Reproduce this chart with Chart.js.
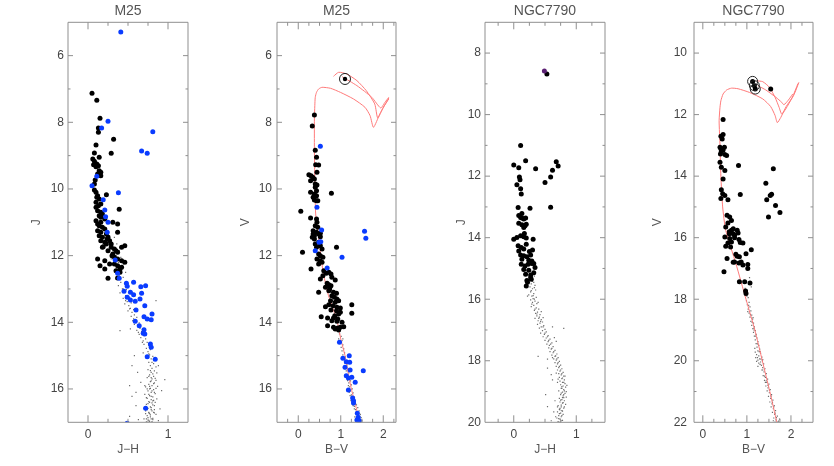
<!DOCTYPE html>
<html><head><meta charset="utf-8">
<script src="https://cdn.jsdelivr.net/npm/chart.js@4.4.1/dist/chart.umd.min.js"></script>
<style>
html,body{margin:0;padding:0;background:#fff;width:834px;height:466px;overflow:hidden;}
canvas{position:absolute;top:0;}
</style></head><body>
<canvas id="c1" width="192" height="466" style="left:8px"></canvas>
<canvas id="c2" width="191" height="466" style="left:217px"></canvas>
<canvas id="c3" width="192" height="466" style="left:425px"></canvas>
<canvas id="c4" width="191" height="466" style="left:634px"></canvas>
<script>
// ---------- tick labels / titles ----------
const panelTitles = ['M25', 'M25', 'NGC7790', 'NGC7790'];
const xTitles = ['J\u2212H', 'B\u2212V', 'J\u2212H', 'B\u2212V'];
const yTitles = ['J', 'V', 'J', 'V'];
const xTicks1 = [0, 1], xTicks2 = [0, 1, 2], xTicks3 = [0, 1], xTicks4 = [0, 1, 2];
const yTicks1 = [6, 8, 10, 12, 14, 16], yTicks2 = [6, 8, 10, 12, 14, 16];
const yTicks3 = [8, 10, 12, 14, 16, 18, 20], yTicks4 = [10, 12, 14, 16, 18, 20, 22];
const xMinor1 = [0, 0.25, 0.5, 0.75, 1];
const xMinor2 = [-0.25, 0, 0.25, 0.5, 0.75, 1, 1.25, 1.5, 1.75, 2, 2.25];
const xMinor3 = [-0.25, 0, 0.25, 0.5, 0.75, 1, 1.25];
const xMinor4 = [0, 0.25, 0.5, 0.75, 1, 1.25, 1.5, 1.75, 2, 2.25];
const yMinor1 = [6, 7, 8, 9, 10, 11, 12, 13, 14, 15, 16];
const yMinor2 = [6, 7, 8, 9, 10, 11, 12, 13, 14, 15, 16];
const yMinor3 = [8, 9, 10, 11, 12, 13, 14, 15, 16, 17, 18, 19];
const yMinor4 = [10, 11, 12, 13, 14, 15, 16, 17, 18, 19, 20, 21];

// ---------- Panel 1: M25, J vs J-H ----------
const m25JBlack = [[0.05,7.13],[0.11,7.34],[0.15,7.88],[0.13,8.17],[0.13,8.30],[0.32,8.51],[0.10,8.68],[0.29,8.93],[0.08,8.92],
[0.14,9.05],[0.06,9.10],[0.08,9.17],[0.11,9.25],[0.07,9.27],[0.13,9.30],[0.10,9.33],[0.14,9.45],[0.16,9.50],[0.12,9.55],[0.16,9.60],
[0.09,9.73],[0.08,9.85],[0.08,10.03],[0.10,10.10],[0.12,10.20],[0.23,10.17],[0.11,10.25],[0.14,10.30],[0.10,10.40],[0.13,10.50],
[0.16,10.45],[0.10,10.55],[0.39,10.61],[0.12,10.65],[0.16,10.70],[0.14,10.80],[0.18,10.75],[0.16,10.85],[0.21,10.90],[0.10,10.95],
[0.12,11.05],[0.14,11.10],[0.31,11.00],[0.37,11.05],[0.16,11.00],[0.18,11.15],[0.21,11.20],[0.12,11.25],[0.16,11.30],[0.14,11.40],
[0.18,11.45],[0.23,11.35],[0.25,11.45],[0.37,11.30],[0.16,11.55],[0.21,11.60],[0.27,11.55],[0.29,11.65],[0.24,11.50],[0.46,11.70],
[0.29,11.75],[0.33,11.80],[0.35,11.85],[0.31,11.95],[0.37,11.90],[0.42,11.75],[0.18,11.75],[0.25,11.85],[0.33,12.05],[0.37,12.10],
[0.42,12.15],[0.12,12.10],[0.21,12.15],[0.33,12.25],[0.37,12.30],[0.42,12.35],[0.35,12.45],[0.40,12.50],[0.21,12.40],[0.27,12.25],
[0.25,12.68],[0.37,12.67],[0.46,12.20],[0.15,12.30],[0.23,11.65],[0.19,11.73],[0.30,12.00],[0.40,12.40]];
const m25JBlue = [[0.41,5.29],[0.25,7.97],[0.17,8.17],[0.81,8.28],[0.67,8.86],[0.74,8.93],[0.11,9.62],[0.05,9.90],[0.38,10.11],
[0.19,10.32],[0.21,10.63],[0.22,10.83],[0.25,11.00],[0.24,11.30],[0.34,12.13],[0.37,12.53],[0.39,12.68],[0.57,12.80],[0.48,12.83],
[0.49,12.92],[0.66,12.93],[0.72,12.90],[0.67,13.13],[0.53,13.10],[0.57,13.17],[0.45,13.07],[0.49,13.25],[0.53,13.33],[0.59,13.37],
[0.65,13.30],[0.71,13.50],[0.60,13.63],[0.80,13.75],[0.70,13.83],[0.74,13.90],[0.79,13.92],[0.59,13.97],[0.64,14.10],[0.70,14.22],
[0.69,14.33],[0.71,14.35],[0.78,14.65],[0.79,14.75],[0.74,15.03],[0.84,15.11],[0.72,16.58],[0.49,17.03]];
const m25JGray = [[0.27,11.4],[0.33,11.45],[0.30,11.6],[0.36,11.65],[0.32,11.8],[0.39,11.85],[0.35,12.0],[0.41,12.05],[0.29,12.1],
[0.38,12.2],[0.44,12.25],[0.36,12.4],[0.42,12.45],[0.47,12.5],[0.39,12.6],[0.44,12.65],[0.35,12.7],[0.41,12.8],[0.46,12.85],[0.38,12.9],
[0.43,13.0],[0.48,13.02],[0.45,13.1],[0.40,13.12],[0.47,13.2],[0.52,13.25],[0.44,13.28],[0.49,13.38],[0.54,13.42],[0.46,13.45],[0.51,13.5],
[0.53,13.58],[0.57,13.62],[0.50,13.66],[0.55,13.7],[0.58,13.78],[0.54,13.82],[0.61,13.85],[0.57,13.9],[0.60,13.98],[0.64,14.02],
[0.58,14.06],[0.62,14.1],[0.53,14.2],[0.65,14.18],[0.61,14.24],[0.67,14.28],[0.64,14.36],[0.70,14.4],[0.66,14.46],[0.72,14.5],
[0.69,14.56],[0.74,14.6],[0.70,14.66],[0.76,14.7],[0.73,14.78],[0.78,14.82],[0.75,14.88],[0.69,14.92],[0.77,14.98],[0.81,15.02],
[0.74,15.06],[0.79,15.1],[0.84,15.14],[0.76,15.2],[0.82,15.24],[0.78,15.3],[0.85,15.34],[0.88,15.3],[0.80,15.38],[0.75,15.42],
[0.83,15.46],[0.79,15.5],[0.86,15.52],[0.62,15.5],[0.77,15.58],[0.82,15.62],[0.74,15.66],[0.80,15.7],[0.85,15.74],[0.78,15.78],
[0.83,15.82],[0.76,15.86],[0.80,15.9],[0.72,15.94],[0.87,15.92],[0.52,15.9],[0.78,15.98],[0.82,16.02],[0.75,16.06],[0.79,16.1],
[0.84,16.14],[0.71,16.16],[0.92,16.05],[0.77,16.2],[0.81,16.24],[0.74,16.28],[0.79,16.32],[0.86,16.3],[0.55,16.22],[0.76,16.38],
[0.80,16.42],[0.73,16.46],[0.83,16.5],[0.78,16.54],[0.60,16.5],[0.75,16.58],[0.79,16.62],[0.72,16.66],[0.82,16.7],[0.77,16.74],
[0.85,16.76],[0.74,16.8],[0.78,16.84],[0.81,16.88],[0.70,16.9],[0.76,16.94],[0.80,16.98],[0.52,16.82],[0.63,16.92],[0.88,16.95],
[0.40,14.25],[0.85,13.35],[0.55,15.3],[0.60,16.1],[0.77,16.0],[0.81,16.36],[0.76,16.72],[0.79,15.66],[0.73,16.9],[0.83,16.62],
[0.78,15.45],[0.81,15.55],[0.76,15.62],[0.84,15.68],[0.79,15.76],[0.82,15.84],[0.77,15.92],[0.74,16.0],[0.80,16.06],[0.83,16.1],
[0.76,16.16],[0.79,16.22],[0.73,16.26],[0.82,16.34],[0.77,16.4],[0.75,16.44],[0.81,16.48],[0.79,16.56],[0.74,16.62],[0.80,16.66],
[0.76,16.7],[0.83,16.72],[0.78,16.78],[0.75,16.86],[0.79,16.9],[0.77,16.97],[0.73,16.99],[0.81,16.92],[0.72,16.74],[0.84,16.4],
[0.71,15.9],[0.85,15.98],[0.80,15.2],[0.76,14.95],[0.68,14.6],[0.63,14.3],[0.56,13.95],[0.52,13.6],[0.47,13.35],[0.44,13.0],
[0.40,12.7],[0.37,12.3],[0.96,15.72],[0.58,15.0],[0.66,15.8],[0.90,16.6]];

// ---------- Panel 2: M25, V vs B-V ----------
const m25VBlack = [[0.38,7.78],[0.33,8.11],[0.40,8.84],[0.43,9.05],[0.41,9.27],[0.48,9.28],[0.44,9.50],[0.25,9.57],[0.30,9.60],
[0.34,9.65],[0.38,9.70],[0.29,9.75],[0.40,9.85],[0.44,9.88],[0.40,9.95],[0.43,10.05],[0.29,10.10],[0.38,10.15],[0.43,10.20],
[0.35,10.25],[0.38,10.33],[0.43,10.35],[0.46,10.35],[0.78,10.13],[0.06,10.67],[0.29,10.87],[0.43,10.90],[0.44,11.00],[0.40,11.10],
[0.46,11.15],[0.35,11.25],[0.43,11.30],[0.48,11.35],[0.38,11.40],[0.52,11.43],[0.35,11.35],[0.52,11.33],[0.33,11.45],[0.38,11.50],
[0.48,11.60],[0.40,11.65],[0.52,11.70],[0.43,11.75],[0.56,11.80],[0.90,11.75],[0.10,11.90],[0.48,11.95],[0.52,12.00],[0.58,12.05],
[0.44,12.10],[0.51,12.15],[0.56,12.20],[0.48,12.25],[0.30,12.40],[0.60,12.45],[0.66,12.53],[0.72,12.50],[0.77,12.55],[0.58,12.60],
[0.87,12.73],[0.79,12.65],[0.52,12.70],[0.68,12.83],[0.72,12.87],[0.77,12.90],[0.64,12.95],[0.74,13.00],[0.72,13.05],[0.83,13.10],
[0.90,13.13],[0.48,13.10],[0.79,13.20],[0.85,13.25],[0.91,13.30],[0.76,13.35],[0.87,13.40],[0.95,13.35],[0.72,13.47],[1.26,13.47],
[0.64,13.53],[0.82,13.50],[0.91,13.55],[0.99,13.57],[0.77,13.63],[0.90,13.65],[0.99,13.70],[0.95,13.75],[0.86,13.80],[1.26,13.73],
[0.54,13.83],[0.69,13.87],[0.83,13.87],[0.93,13.90],[0.79,13.95],[0.91,13.97],[1.03,14.00],[0.69,14.10],[0.83,14.15],[0.93,14.17],
[0.99,14.15],[1.07,14.13],[0.87,14.20],[0.95,14.23]];
const m25VBlue = [[0.52,8.72],[0.44,10.55],[0.55,11.23],[1.56,11.27],[1.59,11.48],[0.49,11.60],[0.53,11.58],[0.40,11.85],[1.03,12.05],
[0.68,12.37],[0.97,14.60],[1.05,15.08],[1.20,15.00],[1.13,15.18],[1.21,15.20],[1.10,15.35],[1.22,15.43],[1.53,15.45],[1.13,15.60],
[1.18,15.67],[1.26,15.65],[1.34,15.80],[1.18,16.03],[1.28,16.27],[1.30,16.35],[1.30,16.42],[1.39,16.73],[1.41,16.85],[1.38,16.93],
[1.44,16.95],[1.42,17.00]];
const m25VGray = [[0.97,14.35],[1.01,14.42],[0.95,14.5],[1.03,14.55],[0.99,14.62],[1.05,14.68],[1.01,14.75],[1.07,14.8],[1.03,14.86],
[1.09,14.92],[1.05,14.98],[1.11,15.04],[1.07,15.1],[1.13,15.15],[1.09,15.22],[1.15,15.28],[1.11,15.34],[1.17,15.4],[1.13,15.46],
[1.19,15.52],[1.15,15.58],[1.21,15.64],[1.17,15.7],[1.23,15.76],[1.19,15.82],[1.25,15.88],[1.21,15.94],[1.27,16.0],[1.23,16.06],
[1.29,16.12],[1.25,16.18],[1.31,16.24],[1.27,16.3],[1.34,16.36],[1.30,16.42],[1.37,16.48],[1.32,16.52],[1.40,16.56],[1.35,16.62],
[1.43,16.66],[1.38,16.72],[1.46,16.76],[1.41,16.8],[1.33,16.84],[1.48,16.86],[1.44,16.9],[1.36,16.94],[1.50,16.96],[1.40,16.99],
[1.47,16.99],[1.14,15.2],[1.18,15.9],[1.05,14.5],[1.28,16.4],[1.22,16.2],[1.36,16.7],[1.10,15.4],[1.26,16.22],[1.32,16.6],
[1.39,16.88],[1.45,16.82],[1.29,16.5],[1.35,16.45],[1.24,16.35],[1.42,16.98],[1.20,16.1],[1.16,15.75]];
const m25VRing = [[1.10,6.70]];
const m25VRingDot = [[1.10,6.70]];
const m25IsoMain = [[1.45,17.0],[1.35,16.5],[1.25,16.0],[1.17,15.5],[1.10,15.0],[1.00,14.5],[0.94,14.1],[0.86,13.75],[0.70,13.15],
[0.58,12.45],[0.49,11.55],[0.41,10.75],[0.39,9.75],[0.38,8.8],[0.38,7.9],[0.39,7.5],[0.40,7.25],[0.43,7.1],[0.48,7.0],[0.56,6.95],
[0.76,6.98],[0.99,7.1],[1.30,7.3],[1.57,7.55],[1.69,7.8],[1.77,8.15],[1.92,7.75],[2.13,7.27]];
const m25IsoLoop1 = [[0.83,6.62],[0.95,6.5],[1.14,6.55],[1.38,6.75],[1.60,7.05],[1.80,7.45],[1.87,7.87],[2.0,7.55],[2.13,7.3]];
const m25IsoLoop2 = [[1.03,6.63],[1.38,6.9],[1.73,7.25],[1.94,7.57],[2.04,7.4],[2.13,7.25]];

// ---------- Panel 3: NGC7790, J vs J-H ----------
const n7790JPurple = [[0.49,8.58]];
const n7790JBlack = [[0.53,8.68],[0.11,11.0],[0.19,11.5],[0.0,11.64],[0.08,11.73],[0.35,11.76],[0.68,11.53],[0.71,11.67],[0.62,11.81],
[0.59,12.03],[0.50,12.21],[0.09,12.03],[0.10,12.12],[0.05,12.28],[0.11,12.41],[0.12,12.58],[0.59,13.01],[0.07,13.02],[0.26,13.04],
[0.13,13.21],[0.11,13.34],[0.16,13.39],[0.08,13.53],[0.13,13.58],[0.20,13.56],[0.16,13.67],[0.13,13.36],[0.19,13.36],[0.08,13.28],
[0.18,13.61],[0.0,14.05],[0.05,13.99],[0.11,13.94],[0.16,13.97],[0.20,14.01],[0.31,14.05],[0.17,13.86],[0.07,14.26],[0.12,14.32],
[0.16,14.37],[0.08,14.43],[0.20,14.21],[0.25,14.45],[0.30,14.40],[0.11,14.56],[0.16,14.59],[0.21,14.62],[0.27,14.56],[0.13,14.70],
[0.24,14.73],[0.29,14.76],[0.12,14.86],[0.18,14.92],[0.23,14.86],[0.29,14.84],[0.34,14.97],[0.16,15.03],[0.24,15.06],[0.32,14.84],
[0.19,15.19],[0.27,15.21],[0.32,15.14],[0.21,15.39],[0.28,15.35],[0.20,15.57],[0.22,15.45],[0.27,15.30]];
const n7790JGray = [[0.25,15.05],[0.31,15.1],[0.27,15.2],[0.33,15.25],[0.29,15.32],[0.24,15.38],[0.32,15.45],[0.28,15.5],
[0.34,15.55],[0.26,15.6],[0.30,15.66],[0.35,15.7],[0.27,15.76],[0.32,15.82],[0.24,15.86],[0.29,15.9],[0.36,15.94],[0.31,15.98],
[0.27,16.02],[0.34,16.06],[0.30,16.1],[0.37,16.14],[0.32,16.2],[0.28,16.24],[0.36,16.28],[0.40,16.32],[0.33,16.36],[0.38,16.42],
[0.35,16.46],[0.42,16.5],[0.37,16.54],[0.41,16.58],[0.34,16.62],[0.44,16.66],[0.39,16.7],[0.46,16.74],[0.42,16.78],[0.38,16.82],
[0.48,16.86],[0.44,16.9],[0.41,16.94],[0.50,16.98],[0.80,16.95],[0.62,16.9],[0.46,17.02],[0.52,17.06],[0.43,17.1],[0.49,17.14],
[0.55,17.18],[0.47,17.22],[0.52,17.26],[0.58,17.3],[0.50,17.34],[0.55,17.38],[0.61,17.42],[0.53,17.46],[0.57,17.5],[0.68,17.37],
[0.65,17.25],[0.63,17.54],[0.56,17.58],[0.60,17.62],[0.66,17.66],[0.58,17.7],[0.63,17.74],[0.69,17.78],[0.61,17.82],[0.66,17.86],
[0.71,17.9],[0.64,17.94],[0.68,17.98],[0.39,17.86],[0.54,17.95],[0.73,18.02],[0.66,18.06],[0.70,18.1],[0.75,18.14],[0.68,18.18],
[0.72,18.22],[0.77,18.26],[0.70,18.3],[0.74,18.34],[0.79,18.38],[0.72,18.42],[0.76,18.46],[0.80,18.5],[0.54,18.24],[0.60,18.45],
[0.73,18.54],[0.77,18.58],[0.81,18.62],[0.74,18.66],[0.78,18.7],[0.82,18.74],[0.75,18.78],[0.79,18.82],[0.83,18.86],[0.76,18.9],
[0.80,18.94],[0.72,18.98],[0.62,18.62],[0.85,18.8],[0.78,19.02],[0.82,19.06],[0.75,19.1],[0.79,19.14],[0.84,19.18],[0.73,19.22],
[0.77,19.26],[0.81,19.3],[0.74,19.34],[0.78,19.38],[0.83,19.42],[0.71,19.46],[0.76,19.5],[0.51,19.1],[0.54,19.49],[0.66,19.3],
[0.80,19.54],[0.73,19.58],[0.77,19.62],[0.70,19.66],[0.75,19.7],[0.79,19.74],[0.72,19.78],[0.76,19.82],[0.69,19.86],[0.74,19.9],
[0.78,19.94],[0.71,19.98],[0.75,20.0],[0.64,19.66],[0.67,19.82],[0.60,19.95],[0.77,18.9],[0.80,19.2],[0.74,19.6],[0.71,18.6],
[0.30,15.15],[0.26,15.28],[0.30,15.42],[0.33,15.62],[0.28,15.72],[0.31,15.88],[0.33,16.0],[0.29,16.16],[0.34,16.32],[0.37,16.48],
[0.40,16.62],[0.43,16.72],[0.47,16.9],[0.50,17.1],[0.54,17.22],[0.56,17.34],[0.59,17.46],[0.61,17.6],[0.64,17.7],[0.67,17.84],
[0.69,17.94],[0.71,18.06],[0.73,18.18],[0.75,18.3],[0.77,18.42],[0.78,18.56],[0.80,18.7],[0.77,18.84],[0.81,18.98],[0.76,19.05],
[0.80,19.1],[0.78,19.2],[0.75,19.28],[0.79,19.36],[0.76,19.44],[0.81,19.5],[0.74,19.55],[0.78,19.64],[0.73,19.72],[0.77,19.78],
[0.72,19.88],[0.76,19.95],[0.73,20.0],[0.70,19.5],[0.84,19.0],[0.82,18.5],[0.70,18.7],[0.68,18.4],[0.62,17.9],[0.47,16.6],
[0.44,16.4],[0.39,16.1],[0.22,15.9]];

// ---------- Panel 4: NGC7790, V vs B-V ----------
const n7790VBlack = [[1.13,10.92],[1.17,11.06],[1.19,11.17],[1.54,11.17],[0.46,12.16],[0.46,12.65],[0.41,12.70],[0.44,12.79],
[0.39,13.06],[0.41,13.11],[0.46,13.15],[0.40,13.28],[0.50,13.30],[0.54,13.33],[0.39,13.55],[0.42,13.71],[0.50,13.82],[0.81,13.65],
[1.60,13.76],[0.46,14.09],[1.43,14.23],[0.42,14.44],[0.45,14.57],[0.50,14.63],[0.57,14.77],[0.41,14.73],[0.85,14.60],[1.45,14.77],
[1.53,14.63],[1.56,14.59],[1.65,14.95],[1.49,15.33],[1.75,15.18],[0.55,15.27],[0.61,15.33],[0.65,15.44],[0.57,15.52],[0.52,15.65],
[0.65,15.76],[0.60,15.87],[0.69,15.71],[0.78,15.76],[0.72,15.92],[0.60,15.81],[0.69,15.87],[0.80,15.85],[0.50,15.98],[0.61,16.03],
[0.72,16.00],[0.82,16.06],[0.57,16.17],[0.65,16.14],[0.85,16.16],[0.91,16.17],[0.52,16.28],[0.63,16.30],[0.98,16.52],[1.10,16.39],
[0.55,16.68],[0.75,16.54],[0.78,16.60],[0.83,16.62],[0.72,16.79],[0.82,16.82],[0.69,16.80],[0.87,16.79],[0.91,16.89],[1.02,16.87],
[1.02,17.00],[0.48,17.11],[0.83,17.43],[0.95,17.43],[1.07,17.47],[0.97,17.73],[0.98,17.81],[0.49,13.06],[0.42,13.20]];
const n7790VRings = [[1.13,10.92],[1.17,11.06],[1.19,11.17]];
const n7790VGray = [[0.96,17.65],[1.01,17.75],[0.98,17.85],[1.03,17.95],[0.99,18.05],[1.05,18.1],[1.01,18.18],[1.07,18.25],
[1.03,18.32],[1.09,18.38],[1.05,18.45],[1.11,18.52],[1.07,18.58],[1.13,18.65],[1.09,18.72],[1.15,18.78],[1.11,18.85],[1.17,18.9],
[1.13,18.96],[1.19,19.02],[1.15,19.08],[1.21,19.14],[1.17,19.2],[1.23,19.26],[1.19,19.32],[1.25,19.38],[1.21,19.44],[1.27,19.5],
[1.23,19.56],[1.29,19.62],[1.25,19.68],[1.19,19.72],[1.31,19.76],[1.22,19.8],[1.27,19.84],[1.34,19.88],[1.20,19.9],[1.29,19.94],
[1.25,19.98],[1.36,19.96],[1.22,20.02],[1.31,20.04],[1.27,20.08],[1.38,20.1],[1.33,20.15],[1.25,20.18],[1.36,20.22],[1.41,20.26],
[1.34,20.3],[1.39,20.36],[1.44,20.42],[1.37,20.48],[1.42,20.54],[1.47,20.6],[1.40,20.64],[1.45,20.7],[1.50,20.76],[1.43,20.82],
[1.48,20.88],[1.53,20.94],[1.46,20.98],[1.51,21.04],[1.56,21.1],[1.49,21.16],[1.54,21.22],[1.59,21.28],[1.52,21.34],[1.57,21.4],
[1.62,21.46],[1.55,21.5],[1.60,21.56],[1.65,21.62],[1.58,21.68],[1.63,21.74],[1.69,21.8],[1.61,21.86],[1.66,21.92],[1.72,21.96],
[1.64,21.99],[1.06,17.3],[1.10,17.6],[1.16,19.0],[1.30,19.7],[1.42,20.7],[1.35,20.0],[1.00,17.9],[1.04,18.2],[1.08,18.5],
[1.12,18.75],[1.16,18.95],[1.20,19.2],[1.24,19.45],[1.28,19.7],[1.32,19.95],[1.30,20.12],[1.36,20.3],[1.40,20.5],[1.44,20.65],
[1.48,20.8],[1.51,20.95],[1.55,21.15],[1.58,21.35],[1.61,21.5],[1.64,21.7],[1.67,21.85],[1.70,21.99],[1.60,21.95],[1.74,21.9],
[1.24,19.9],[1.18,19.6],[1.14,18.6],[1.02,18.4]];
const n7790IsoMain = [[1.68,22.0],[1.52,21.0],[1.35,20.0],[1.18,19.0],[0.98,18.0],[0.75,16.84],[0.52,15.76],[0.45,15.0],[0.41,14.0],
[0.39,13.0],[0.37,12.2],[0.39,11.76],[0.41,11.55],[0.46,11.33],[0.54,11.2],[0.65,11.14],[0.80,11.16],[1.06,11.28],[1.36,11.49],
[1.54,11.74],[1.64,12.03],[1.69,12.26],[1.77,12.09],[1.89,11.74],[2.06,11.38],[2.18,10.95]];
const n7790IsoLoop1 = [[1.22,10.9],[1.36,10.93],[1.51,11.11],[1.64,11.44],[1.73,11.76],[1.79,11.98],[1.88,11.82],[2.03,11.44],[2.16,10.99]];
const n7790IsoLoop2 = [[1.25,11.06],[1.43,11.2],[1.66,11.44],[1.79,11.6],[1.84,11.68],[1.94,11.53],[2.04,11.33]];

// ---------- drawing ----------
const FONT = '"Liberation Sans", Arial, Helvetica, sans-serif';
const pts = a => a.map(([x, y]) => ({x, y}));
const dotSet = (a, c, r) => ({data: pts(a), backgroundColor: c, borderWidth: 0, pointRadius: r, pointHoverRadius: r});
const graySet = a => ({data: pts(a), backgroundColor: '#6e6e6e', borderWidth: 0, pointStyle: 'rect', pointRadius: 0.85, pointHoverRadius: 0.85});
const lineSet = a => ({data: pts(a), showLine: true, borderColor: '#ff7a7a', borderWidth: 1, pointRadius: 0, fill: false, tension: 0.2});
const ringSet = (a, r) => ({data: pts(a), backgroundColor: 'rgba(0,0,0,0)', borderColor: '#222', borderWidth: 1, pointRadius: r, pointHoverRadius: r});

function framePlugin(xMinor, xMajor, yMinor, yMajor) {
  return {
    id: 'frame',
    afterDatasetsDraw(chart) {
      const {ctx, chartArea: a, scales: {x, y}} = chart;
      ctx.save();
      ctx.strokeStyle = '#8f8f8f';
      ctx.lineWidth = 1;
      ctx.beginPath();
      ctx.rect(a.left, a.top, a.right - a.left, a.bottom - a.top);
      for (const v of xMinor) {
        const p = x.getPixelForValue(v);
        const len = xMajor.includes(v) ? 7 : 3.5;
        ctx.moveTo(p, a.bottom); ctx.lineTo(p, a.bottom - len);
        ctx.moveTo(p, a.top); ctx.lineTo(p, a.top + len);
      }
      for (const v of yMinor) {
        const p = y.getPixelForValue(v);
        const len = yMajor.includes(v) ? 5 : 2.5;
        ctx.moveTo(a.left, p); ctx.lineTo(a.left + len, p);
        ctx.moveTo(a.right, p); ctx.lineTo(a.right - len, p);
      }
      ctx.stroke();
      ctx.restore();
    }
  };
}

function panel(id, c) {
  new Chart(document.getElementById(id), {
    type: 'scatter',
    data: {datasets: c.datasets},
    options: {
      responsive: false, animation: false, devicePixelRatio: 1,
      events: [],
      layout: {padding: {left: 0, right: 12, top: 0, bottom: 0}},
      plugins: {
        legend: {display: false}, tooltip: {enabled: false},
        title: {display: true, fullSize: false, align: 'center', text: c.title, color: '#555',
          font: {family: FONT, size: 14, weight: 'normal'}, padding: {top: 3, bottom: 2.5}}
      },
      scales: {
        x: {
          type: 'linear', min: c.xMin, max: c.xMax,
          afterBuildTicks: s => { s.ticks = c.xTicks.map(v => ({value: v})); },
          afterFit: s => { s.height = 43.7; },
          ticks: {color: '#444', font: {family: FONT, size: 12}, padding: 5, maxRotation: 0, autoSkip: false, callback: v => String(v)},
          grid: {display: false, drawTicks: false}, border: {display: false},
          title: {display: true, text: c.xTitle, color: '#555', font: {family: FONT, size: 12}, padding: {top: 0, bottom: 8.8}}
        },
        y: {
          type: 'linear', reverse: true, min: c.yMin, max: c.yMax,
          afterBuildTicks: s => { s.ticks = c.yTicks.map(v => ({value: v})); },
          afterFit: s => { s.width = 60; },
          ticks: {color: '#444', font: {family: FONT, size: 12}, padding: c.yPad, autoSkip: false, callback: v => String(v)},
          grid: {display: false, drawTicks: false}, border: {display: false},
          title: {display: true, text: c.yTitle, color: '#555', font: {family: FONT, size: 12}, padding: {top: c.yTitlePad, bottom: 0}}
        }
      }
    },
    plugins: [framePlugin(c.xMinor, c.xTicks, c.yMinor, c.yTicks)]
  });
}

const BLUE = '#0a3cff', BLACK = '#000';

panel('c1', {title: panelTitles[0], xTitle: xTitles[0], yTitle: yTitles[0], xMin: -0.25, xMax: 1.25, yMin: 5, yMax: 17,
  xTicks: xTicks1, yTicks: yTicks1, xMinor: xMinor1, yMinor: yMinor1, yPad: 4, yTitlePad: 21.5,
  datasets: [dotSet(m25JBlue, BLUE, 2.5), dotSet(m25JBlack, BLACK, 2.5), graySet(m25JGray)]});

panel('c2', {title: panelTitles[1], xTitle: xTitles[1], yTitle: yTitles[1], xMin: -0.5, xMax: 2.3, yMin: 5, yMax: 17,
  xTicks: xTicks2, yTicks: yTicks2, xMinor: xMinor2, yMinor: yMinor2, yPad: 5, yTitlePad: 21,
  datasets: [ringSet(m25VRing, 5.5), dotSet(m25VRingDot, BLACK, 2.2), dotSet(m25VBlue, BLUE, 2.5), dotSet(m25VBlack, BLACK, 2.5),
    lineSet(m25IsoMain), lineSet(m25IsoLoop1), lineSet(m25IsoLoop2), graySet(m25VGray)]});

panel('c3', {title: panelTitles[2], xTitle: xTitles[2], yTitle: yTitles[2], xMin: -0.46, xMax: 1.46, yMin: 7, yMax: 20,
  xTicks: xTicks3, yTicks: yTicks3, xMinor: xMinor3, yMinor: yMinor3, yPad: 4, yTitlePad: 29.5,
  datasets: [dotSet(n7790JPurple, '#5b1f73', 2.5), dotSet(n7790JBlack, BLACK, 2.5), graySet(n7790JGray)]});

panel('c4', {title: panelTitles[3], xTitle: xTitles[3], yTitle: yTitles[3], xMin: -0.2, xMax: 2.5, yMin: 9, yMax: 22,
  xTicks: xTicks4, yTicks: yTicks4, xMinor: xMinor4, yMinor: yMinor4, yPad: 7, yTitlePad: 16.5,
  datasets: [ringSet(n7790VRings, 5), dotSet(n7790VBlack, BLACK, 2.5),
    lineSet(n7790IsoMain), lineSet(n7790IsoLoop1), lineSet(n7790IsoLoop2), graySet(n7790VGray)]});
</script>
</body></html>
